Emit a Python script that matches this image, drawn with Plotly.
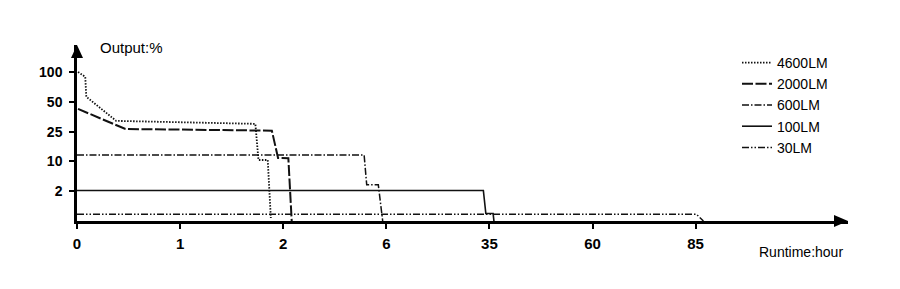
import numpy as np
import plotly.graph_objects as go

# ---- axis tick values (non-linear display scale, evenly spaced ticks) ----
X_TICKS = [0, 1, 2, 6, 35, 60, 85]          # Runtime: hour
Y_TICKS = [0, 2, 10, 25, 50, 100]           # Output: %

# ---- series (hours, percent output) ----
names = ["4600LM", "2000LM", "600LM", "100LM", "30LM"]

hours_4600 = [0.01, 0.08, 0.09, 0.38, 1.73, 1.76, 1.85, 1.88]
pct_4600 = [100, 92, 58.5, 34, 31.5, 10.7, 10.7, 0.2]

hours_2000 = [0.01, 0.47, 1.89, 1.95, 2.2, 2.33]
pct_2000 = [44, 27.2, 25.8, 11.7, 11.6, 0]

hours_600 = [0, 5.14, 5.24, 5.69, 5.86]
pct_600 = [13.2, 13.2, 3.7, 3.7, 0]

hours_100 = [0, 33.3, 34.0, 35.9, 36.1]
pct_100 = [2.2, 2.2, 0.5, 0.5, 0]

hours_30 = [0, 85.2, 86.9]
pct_30 = [0.45, 0.45, 0]

series_hours = [hours_4600, hours_2000, hours_600, hours_100, hours_30]
series_pct = [pct_4600, pct_2000, pct_600, pct_100, pct_30]

styles = [
    dict(dash="1.5px,1.5px", width=1.8),
    dict(dash="11px,2.5px", width=2.0),
    dict(dash="7px,2px,1.5px,2px", width=1.5),
    dict(dash="solid", width=1.6),
    dict(dash="7px,2px,1.5px,2px,1.5px,2px", width=1.5),
]


def to_scale(vals, ticks):
    """Piecewise-linear scale: each tick interval gets equal display width."""
    vals = np.asarray(vals, dtype=float)
    idx = np.arange(len(ticks), dtype=float)
    pos = np.interp(vals, ticks, idx)
    hi = vals > ticks[-1]
    pos[hi] = idx[-1] + (vals[hi] - ticks[-1]) / (ticks[-1] - ticks[-2])
    return pos


# ---- geometry (pixels) ----
W, H = 900, 289
L, R_EDGE, TOP, BOT = 77, 848, 45, 221
x_unit = 103.1
y_unit = 29.8

fig = go.Figure()
for i, name in enumerate(names):
    fig.add_trace(go.Scatter(
        x=to_scale(series_hours[i], X_TICKS),
        y=to_scale(series_pct[i], Y_TICKS),
        mode="lines",
        name=name,
        legendgroup=name,
        line=dict(color="#111111", width=styles[i]["width"], dash=styles[i]["dash"]),
        hoverinfo="skip",
    ))

tick_font = dict(family="Liberation Sans, Arial, sans-serif", size=14, color="#000", weight="bold")

fig.update_layout(
    width=W, height=H,
    margin=dict(l=L, r=W - R_EDGE, t=TOP, b=H - BOT),
    plot_bgcolor="white", paper_bgcolor="white",
    font=dict(family="Liberation Sans, Arial, sans-serif", color="#000"),
    xaxis=dict(
        range=[0, (R_EDGE - L) / x_unit],
        tickvals=to_scale(X_TICKS, X_TICKS),
        ticktext=[str(t) for t in X_TICKS],
        showgrid=False, zeroline=False,
        showline=True, linecolor="#000", linewidth=2.5,
        ticks="outside", ticklen=5, tickwidth=1.5, tickcolor="#000",
        tickfont=dict(tick_font, size=15),
        ticklabelstandoff=2,
    ),
    yaxis=dict(
        range=[0, (BOT - TOP) / y_unit],
        tickvals=to_scale(Y_TICKS[1:], Y_TICKS),
        ticktext=[str(t) for t in Y_TICKS[1:]],
        showgrid=False, zeroline=False,
        showline=True, linecolor="#000", linewidth=2.5,
        ticks="outside", ticklen=5, tickwidth=1.5, tickcolor="#000",
        tickfont=tick_font,
        ticklabelstandoff=4,
    ),
    showlegend=True,
    legend=dict(
        x=(737 - L) / (R_EDGE - L), xanchor="left",
        y=(BOT - 47) / (BOT - TOP), yanchor="top",
        bgcolor="rgba(0,0,0,0)", borderwidth=0,
        font=dict(size=14, color="#000"),
        tracegroupgap=4,
        traceorder="normal",
    ),
)

# arrowheads for the axes
fig.add_shape(type="path", xref="paper", yref="paper",
              xsizemode="pixel", ysizemode="pixel", xanchor=1, yanchor=0,
              path="M0,0 L-14,6 L-14,-6 Z", fillcolor="#000", line=dict(width=0))
fig.add_shape(type="path", xref="paper", yref="paper",
              xsizemode="pixel", ysizemode="pixel", xanchor=0, yanchor=1,
              path="M0,0 L-6,-13 L6,-13 Z", fillcolor="#000", line=dict(width=0))


def px_x(px):
    return (px - L) / (R_EDGE - L)


def px_y(py):
    return (BOT - py) / (BOT - TOP)


fig.add_annotation(text="Output:%", xref="paper", yref="paper",
                   x=px_x(98), y=px_y(47), xanchor="left", yanchor="middle",
                   showarrow=False, font=dict(size=15, color="#000"))
fig.add_annotation(text="Runtime:hour", xref="paper", yref="paper",
                   x=px_x(757), y=px_y(252), xanchor="left", yanchor="middle",
                   showarrow=False, font=dict(size=14, color="#000"))

fig.write_html("out.html")
